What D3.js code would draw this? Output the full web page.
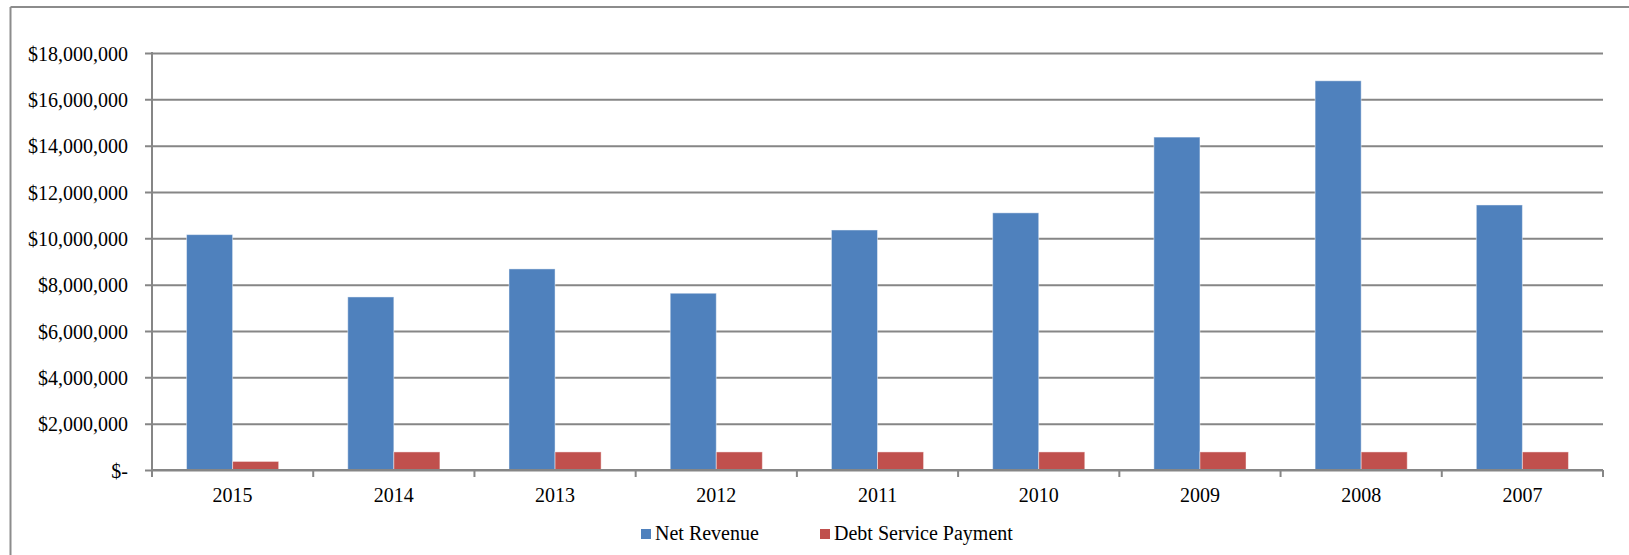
<!DOCTYPE html>
<html>
<head>
<meta charset="utf-8">
<script src="https://cdn.jsdelivr.net/npm/d3@7"></script>
<style>
  html, body { margin: 0; padding: 0; background: #fff; }
  svg { display: block; }
  text { font-family: "Liberation Serif", "Times New Roman", serif; fill: #000; }
</style>
</head>
<body>
<svg id="chart" width="1629" height="555"></svg>
<script>
const years = ["2015", "2014", "2013", "2012", "2011", "2010", "2009", "2008", "2007"];
const netRevenue = [10160000, 7470000, 8680000, 7630000, 10360000, 11100000, 14370000, 16800000, 11440000];
const debtService = [370000, 780000, 780000, 780000, 780000, 780000, 780000, 780000, 780000];
const seriesNames = ["Net Revenue", "Debt Service Payment"];
const seriesColors = ["#4F81BD", "#C0504D"];
const yTicks = [0, 2000000, 4000000, 6000000, 8000000, 10000000, 12000000, 14000000, 16000000, 18000000];

(function () {
const svg = d3.select("#chart");
const W = 1629, H = 555;
const pLeft = 152, pRight = 1603, pTop = 53, pBottom = 470;
const gridColor = "#868686";
const fontSize = 20;
const ff = "'Liberation Serif', 'Times New Roman', serif";

// outer border (left and top)
svg.append("line").attr("x1", 10.5).attr("x2", 10.5).attr("y1", 7).attr("y2", H).attr("stroke", "#8c8c8c").attr("stroke-width", 2);
svg.append("line").attr("x1", 10.5).attr("x2", W).attr("y1", 7).attr("y2", 7).attr("stroke", "#8c8c8c").attr("stroke-width", 2);

const x = d3.scaleBand().domain(years).range([pLeft, pRight]).paddingInner(0).paddingOuter(0);
const xs = d3.scaleBand().domain(seriesNames).range([0, x.bandwidth()]).paddingInner(0).paddingOuter(0.75);
const y = d3.scaleLinear().domain([0, 18000000]).range([pBottom, pTop]);

const fmt = v => v === 0 ? "$-" : "$" + d3.format(",")(v);

// gridlines + y axis
const yAxis = d3.axisLeft(y).tickValues(yTicks).tickFormat(fmt).tickSize(pRight - pLeft + 7).tickPadding(10);
const gy = svg.append("g").attr("transform", `translate(${pRight},0)`).call(yAxis);
gy.select(".domain").remove();
gy.selectAll(".tick line").attr("stroke", gridColor).attr("stroke-width", 2);
gy.selectAll(".tick text")
  .attr("x", 128 - pRight)
  .attr("dy", "0.36em")
  .style("font-size", fontSize + "px")
  .style("font-family", ff)
  .attr("fill", "#000");

// y axis line
svg.append("line").attr("x1", pLeft).attr("x2", pLeft).attr("y1", pTop - 1).attr("y2", pBottom + 7)
  .attr("stroke", gridColor).attr("stroke-width", 2);

// bars
const data = years.map((yr, i) => ({ year: yr, values: [netRevenue[i], debtService[i]] }));
const groups = svg.append("g").selectAll("g").data(data).join("g")
  .attr("transform", d => `translate(${x(d.year)},0)`);
groups.selectAll("rect").data(d => d.values.map((v, j) => ({ name: seriesNames[j], v, j })))
  .join("rect")
  .attr("x", d => xs(d.name))
  .attr("width", xs.bandwidth())
  .attr("y", d => y(d.v))
  .attr("height", d => y(0) - y(d.v))
  .attr("fill", d => seriesColors[d.j])
  .attr("stroke", "rgba(255,255,255,0.45)")
  .attr("stroke-width", 1);

// x axis
const xAxis = d3.axisBottom(x).tickSize(0).tickPadding(0);
const gx = svg.append("g").attr("transform", `translate(0,${pBottom})`).call(xAxis);
gx.select(".domain").attr("stroke", gridColor).attr("stroke-width", 2).attr("d", `M${pLeft},0H${pRight}`);
gx.selectAll(".tick text")
  .attr("y", 31.5).attr("dy", null)
  .style("font-size", fontSize + "px")
  .style("font-family", ff).attr("fill", "#000");
// category boundary ticks
const bounds = years.map(yr => x(yr)).concat([pRight]);
svg.append("g").selectAll("line").data(bounds).join("line")
  .attr("x1", d => d).attr("x2", d => d).attr("y1", pBottom).attr("y2", pBottom + 7)
  .attr("stroke", gridColor).attr("stroke-width", 2);

// legend
const legendX = [641, 820];
const lg = svg.append("g").selectAll("g").data(seriesNames).join("g")
  .attr("transform", (d, i) => `translate(${legendX[i]},529)`);
lg.append("rect").attr("width", 10).attr("height", 10).attr("fill", (d, i) => seriesColors[i]);
lg.append("text").attr("x", 14).attr("y", 11).text(d => d).style("font-size", fontSize + "px").style("font-family", ff);
})();
</script>
</body>
</html>
